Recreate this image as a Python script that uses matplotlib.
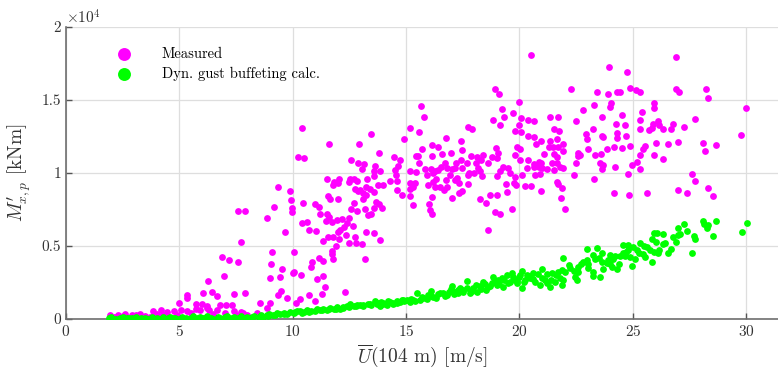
import numpy as np
import matplotlib
matplotlib.use("Agg")
import matplotlib.pyplot as plt
from matplotlib.ticker import FuncFormatter

plt.rcParams["font.family"] = "serif"
plt.rcParams["font.serif"] = ["cmr10"]
plt.rcParams["mathtext.fontset"] = "cm"
plt.rcParams["axes.formatter.use_mathtext"] = True

# measured bending moment (U [m/s], M [kNm])
measured_low = [
    (7.60, 7380), (7.91, 7380), (7.72, 5300), (6.90, 4220), (7.19, 4040), (7.60, 3900),
    (6.96, 2950), (6.28, 2580), (6.06, 1760), (6.44, 1850), (6.65, 1580), (7.41, 1710),
    (7.90, 1760), (5.35, 1640), (5.35, 1420), (4.97, 1070), (5.74, 1030), (6.00, 1030),
    (6.20, 910), (6.79, 980), (7.06, 980), (7.31, 980), (5.74, 700), (5.90, 620),
    (6.20, 750), (6.30, 600), (5.07, 600), (5.35, 580), (3.82, 520), (4.18, 600),
    (4.44, 450), (4.76, 560), (1.94, 300), (2.31, 280), (2.60, 320), (2.90, 260),
    (3.26, 330), (6.65, 600), (7.00, 400), (7.40, 520), (7.70, 480), (8.00, 300),
    (2.10, 150), (2.50, 200), (3.10, 250), (3.50, 200), (4.00, 350), (4.30, 300),
    (5.50, 400), (6.50, 350), (7.50, 250), (7.80, 400), (3.70, 150), (4.90, 250),
]
measured_mid = [
    (10.43, 13060), (11.60, 11990), (10.23, 11070), (10.48, 11000), (13.46, 12670),
    (12.93, 11990), (13.82, 11350), (12.59, 10890), (12.88, 10660), (13.13, 10620),
    (13.04, 10250), (13.63, 10480), (13.60, 10140), (13.84, 10140), (13.57, 9790),
    (14.46, 11120), (14.71, 10890), (14.66, 10500), (14.49, 10200), (14.54, 9860),
    (14.60, 9450), (14.60, 8810), (14.84, 8490), (14.90, 12330),
    (11.53, 9610), (11.80, 9380), (12.06, 9570), (11.76, 9160), (12.00, 9300),
    (12.53, 9610), (12.68, 9610), (12.50, 9380), (12.85, 9450), (13.29, 9570),
    (13.23, 9020), (13.41, 8930), (13.75, 9200), (14.00, 9200), (14.28, 9450),
    (12.76, 8880), (12.97, 8840), (13.12, 8650), (12.88, 8790), (11.54, 8420),
    (11.65, 8200), (12.01, 8200), (13.12, 8200), (13.22, 8490), (13.59, 8700),
    (13.65, 7990), (13.82, 7880), (13.93, 7630), (13.60, 7630), (12.72, 7970),
    (12.59, 7560), (12.82, 7400), (13.18, 7510), (13.46, 7190), (13.32, 7100),
    (9.35, 9060), (9.87, 8790), (9.16, 7690), (9.94, 8150), (9.95, 7580),
    (9.98, 7310), (10.44, 7920), (8.88, 6900), (10.96, 7850), (11.15, 7690),
    (11.22, 7170), (11.50, 7170), (11.62, 6960), (11.47, 6740), (11.72, 6670),
    (11.97, 6780), (12.16, 6830), (12.46, 6940), (12.38, 6550), (12.28, 6320),
    (12.65, 6350), (10.43, 6550), (10.62, 6640), (10.71, 6100), (11.03, 6030),
    (9.68, 5940), (11.32, 5370), (11.57, 5640), (11.76, 5590), (12.03, 5500),
    (12.09, 6100), (11.98, 5980), (12.35, 5750), (12.47, 5230), (12.75, 5640),
    (12.79, 5180), (13.06, 5110), (13.25, 5940), (13.59, 5910), (13.87, 5390),
    (11.91, 5020), (11.73, 4660), (11.72, 4450), (11.76, 4110), (13.20, 4110),
    (9.10, 4610), (10.04, 4610), (9.06, 3740), (9.54, 3400), (9.00, 2790),
    (9.43, 2900), (10.00, 3130), (10.07, 3220), (10.37, 3010), (10.84, 3880),
    (10.81, 3580), (11.16, 4160), (11.32, 4000), (11.09, 2720), (11.32, 2950),
    (11.43, 2210), (11.29, 1710), (12.29, 1850), (10.73, 1640), (10.98, 1230),
    (10.32, 1350), (10.13, 1120), (9.48, 1940), (9.34, 1640), (9.75, 1420),
    (8.56, 1070), (9.00, 1070), (8.85, 730), (8.41, 430),
]
measured_high = [
    (15.66, 14610), (15.78, 13840), (15.18, 13060), (15.57, 12810),
    (18.91, 15730), (19.10, 15410), (19.96, 14890), (20.50, 18080), (19.22, 14380),
    (18.85, 13630), (19.15, 13270), (19.31, 13810), (19.73, 14090), (20.07, 13790),
    (19.96, 13270), (20.37, 13630), (19.82, 12850), (20.06, 12830), (20.37, 12560),
    (17.73, 13130), (17.91, 13010), (16.78, 12420), (17.44, 12170), (17.47, 11550),
    (16.16, 11940), (16.41, 11800), (15.69, 11620), (15.44, 11170), (15.54, 11170),
    (16.59, 11280), (16.97, 11350), (16.12, 11140), (16.70, 10660), (16.53, 10390),
    (16.40, 10210), (16.26, 10160), (16.19, 9980), (16.10, 10250), (16.82, 10320),
    (17.01, 10300), (17.19, 10710), (17.16, 10340), (17.46, 10320), (17.43, 10890),
    (15.18, 10110), (15.44, 10090), (15.59, 10660), (15.85, 10250),
    (15.90, 9840), (16.32, 9570), (16.20, 9410), (15.97, 9180), (16.26, 9060),
    (16.50, 9060), (16.79, 9060), (16.65, 8840), (16.75, 9520), (16.94, 9860),
    (15.15, 9290), (15.41, 9290), (15.32, 9060), (15.15, 8880), (15.15, 8420),
    (15.29, 7830), (16.03, 7850), (16.13, 8380), (16.06, 7460), (16.16, 7190),
    (17.01, 8290), (17.35, 8610), (17.47, 8790), (17.16, 9520), (17.26, 9630),
    (17.35, 9290), (17.68, 10660), (17.85, 11170), (18.12, 11120), (18.41, 11230),
    (18.32, 10890), (18.06, 10660), (18.15, 10370), (18.24, 10160), (18.34, 9820),
    (18.59, 10660), (17.76, 9980), (17.73, 9860), (18.00, 9980), (17.75, 9250),
    (18.26, 8220), (18.53, 7920), (18.71, 8490), (19.03, 8490), (18.90, 7350),
    (19.16, 7170), (18.63, 6100), (18.78, 11120), (18.96, 11690), (19.04, 11390),
    (19.00, 11000), (19.29, 10430), (19.12, 10160), (19.01, 9820), (19.51, 10320),
    (19.59, 10020), (19.81, 9750), (19.74, 9290), (19.41, 9250), (19.47, 8720),
    (19.66, 7510), (19.84, 9180), (20.10, 9860), (20.25, 9110), (20.32, 10320),
    (19.91, 11800), (20.03, 11620), (19.81, 11230), (20.03, 10890), (20.37, 10890),
    (23.94, 17240), (24.74, 16900), (22.27, 15730), (23.41, 15570), (23.91, 15410),
    (24.32, 15550), (24.44, 15550), (24.88, 15800), (25.13, 15690), (25.32, 15570),
    (24.04, 14820), (24.00, 14540), (22.79, 14320), (23.29, 14630), (23.62, 13860),
    (24.54, 13990), (22.50, 13560), (20.66, 13560), (21.35, 13810), (21.72, 13840),
    (24.25, 13380), (24.65, 13290), (24.32, 12760), (24.32, 12380), (24.71, 12530),
    (23.22, 13010), (22.93, 12670), (22.97, 12310), (23.63, 12530), (23.68, 12490),
    (21.52, 13010), (21.75, 12880), (20.65, 12440), (20.94, 12210), (21.35, 12210),
    (21.65, 12310), (20.72, 11990), (21.94, 11960), (21.91, 11530), (21.72, 11760),
    (21.47, 11760), (21.32, 11760), (21.06, 11280), (21.50, 11280), (21.65, 11120),
    (23.02, 11670), (23.35, 11210), (23.59, 11280), (23.88, 11670), (24.15, 11760),
    (24.54, 11690), (24.88, 11850), (25.18, 10780), (24.96, 10550), (22.60, 11350),
    (22.56, 11170), (22.68, 11230), (22.50, 10660), (22.41, 9860), (23.27, 9570),
    (23.53, 10660), (23.68, 10550), (23.65, 10250), (24.19, 10390), (24.79, 9930),
    (24.16, 8650), (24.85, 8470), (20.65, 10620), (20.84, 10780), (20.94, 10710),
    (20.62, 10430), (20.84, 10430), (21.00, 10370), (20.69, 9860), (20.91, 9930),
    (21.21, 10300), (21.43, 10660), (21.65, 10710), (21.79, 10390), (21.91, 10370),
    (21.50, 10210), (20.52, 9110), (20.94, 8770), (21.68, 9250), (21.87, 8970),
    (21.65, 9410), (21.85, 8290), (22.00, 7510),
    (26.92, 17970), (26.92, 15730), (27.03, 15530), (28.23, 15780), (28.32, 15110),
    (30.01, 14470), (25.92, 14820), (25.92, 14470), (25.39, 14200), (25.32, 13630),
    (25.32, 12990), (26.13, 13560), (26.17, 13290), (25.88, 13360), (25.83, 13060),
    (25.69, 12950), (26.32, 12990), (26.69, 12990), (26.79, 13330), (27.25, 13170),
    (27.72, 13700), (29.79, 12600), (26.04, 12030), (26.53, 12010), (27.01, 12100),
    (28.11, 12050), (28.16, 11530), (28.67, 11890), (25.54, 11850), (25.44, 11620),
    (25.32, 11210), (25.94, 11230), (26.32, 10960), (25.32, 10300), (27.60, 9910),
    (27.72, 9430), (28.33, 8990), (28.53, 8400), (26.97, 8840), (27.39, 8610),
    (25.64, 8630),
]

# dynamic gust buffeting calculation
calc_low = [
    (1.9, 50), (2.0, 120), (2.2, 30), (2.4, 80), (2.5, 150), (2.7, 40), (2.9, 100),
    (3.0, 20), (3.1, 130), (3.3, 60), (3.5, 90), (3.6, 30), (3.8, 150), (4.0, 70),
    (4.1, 20), (4.3, 110), (4.5, 50), (4.6, 160), (4.8, 80), (5.0, 30), (5.1, 130),
    (5.3, 60), (5.5, 100), (5.6, 180), (5.8, 40), (5.9, 120), (6.1, 70), (6.2, 200),
    (6.4, 90), (6.5, 30), (6.7, 150), (6.8, 60), (7.0, 110), (7.1, 190), (7.3, 50),
    (7.4, 140), (7.6, 90), (7.7, 210), (7.9, 60), (8.0, 170), (8.2, 110), (8.3, 240),
    (8.5, 170), (8.6, 280), (8.7, 130),
    (2.1, 0), (2.6, 10), (3.2, 0), (3.9, 10), (4.4, 0), (5.2, 10), (5.7, 0),
    (6.3, 10), (6.9, 0), (7.5, 10), (8.1, 30), (2.8, 60), (4.7, 40), (6.0, 90),
    (7.2, 80),
    (8.85, 250), (8.95, 330), (9.15, 270), (9.3, 390), (9.45, 310), (9.6, 420),
    (9.75, 360), (9.9, 480), (10.05, 410), (10.2, 520), (10.3, 570), (10.5, 470),
    (10.65, 600), (10.8, 540), (11.06, 660), (11.2, 590), (11.35, 700), (11.5, 640),
    (11.65, 730), (11.8, 680), (11.95, 790), (12.1, 720), (12.23, 800), (12.4, 880),
    (12.53, 1030), (12.7, 860), (12.85, 940), (12.97, 960), (13.1, 880), (13.3, 1060),
    (13.45, 990), (13.63, 1260), (13.75, 1090), (13.9, 1150), (14.0, 1030),
    (14.2, 1200), (14.44, 1100), (14.6, 1250), (14.81, 1300), (15.03, 1300),
    (8.9, 200), (9.2, 300), (9.6, 350), (10.1, 470), (10.4, 430), (10.7, 510),
    (11.0, 560), (11.3, 640), (11.6, 690), (11.9, 720), (12.2, 760), (12.5, 850),
    (12.8, 900), (13.1, 960), (13.4, 1020), (13.7, 1000), (14.0, 1120), (14.3, 1150),
    (14.6, 1080), (14.9, 1220),
]
calc_high = [
    (13.85, 890), (14.14, 960), (14.44, 1030), (14.73, 1190), (14.88, 1300),
    (15.17, 1190), (15.32, 1300), (15.50, 1760), (15.61, 1300), (15.76, 1420),
    (15.98, 1640), (16.10, 1900), (16.20, 1530), (16.42, 1690), (16.64, 1800),
    (16.79, 1640), (16.97, 2030), (17.01, 2260), (17.16, 1870), (17.31, 1760),
    (17.38, 2100), (17.53, 1990), (17.70, 2600), (17.82, 1760), (17.97, 2100),
    (18.14, 1870), (18.26, 2260), (18.41, 2560), (18.53, 1990), (18.63, 2170),
    (18.78, 2440), (18.85, 2900), (19.00, 2330), (19.07, 2670), (19.22, 2780),
    (19.29, 2210), (19.44, 3010), (19.59, 2560), (19.66, 3130), (19.81, 2670),
    (19.88, 2440), (20.03, 3010), (20.10, 3310), (20.10, 2100), (20.25, 2670),
    (20.32, 3010), (20.47, 2780), (20.61, 3170), (20.69, 2560), (20.91, 2330),
    (20.98, 3400), (21.13, 2670), (21.20, 2440), (21.35, 2210), (21.42, 3130),
    (21.57, 2560), (21.72, 3240),
    (15.2, 1350), (15.4, 1250), (15.7, 1500), (15.9, 1380), (16.1, 1600),
    (16.3, 1450), (16.5, 1750), (16.7, 1550), (16.9, 1850), (17.1, 1700),
    (17.3, 2000), (17.5, 1850), (17.7, 2150), (17.9, 1950), (18.1, 2300),
    (18.3, 2050), (18.5, 2400), (18.7, 2250), (18.9, 2600), (19.1, 2400),
    (19.3, 2700), (19.5, 2500), (19.7, 2850), (19.9, 2600), (20.0, 2900),
    (20.2, 2550), (20.4, 2950), (20.6, 2750), (20.8, 3050), (21.0, 2800),
    (21.2, 3100), (21.4, 2700), (21.6, 3000), (21.8, 2800), (22.2, 3700),
    (22.4, 3300), (22.7, 3800), (23.0, 3500), (23.5, 4200), (24.0, 4400),
    (24.4, 3800), (24.7, 4600), (25.0, 4900), (25.5, 5000), (26.0, 5300),
    (26.4, 5200), (27.1, 5800),
    (21.94, 4200), (21.86, 3360), (22.01, 3240), (21.91, 2670), (21.86, 2330),
    (22.23, 3470), (22.45, 2900), (22.53, 2670), (22.60, 3580), (22.60, 3240),
    (22.82, 3930), (22.97, 4040), (22.97, 4770), (23.04, 3740), (23.26, 4380),
    (23.33, 4090), (23.23, 3240), (23.26, 2950), (23.41, 4840), (23.55, 2900),
    (23.63, 4500), (23.63, 3930), (23.67, 3400), (23.85, 3860), (23.92, 4040),
    (23.99, 3770), (24.07, 3580), (24.14, 4090), (24.22, 4310), (24.32, 3400),
    (24.44, 4310), (24.55, 5070), (24.58, 4500), (24.66, 4310), (24.80, 5070),
    (24.88, 4270), (24.95, 3630), (24.80, 4730), (25.10, 4090), (25.20, 4730),
    (25.32, 5230), (25.29, 4500), (25.44, 4450), (25.54, 4270), (25.64, 4910),
    (25.76, 4730), (25.83, 3930), (25.83, 5460), (25.94, 5910), (26.05, 5870),
    (26.14, 4730), (25.94, 4610), (26.13, 4500), (26.32, 5110), (26.32, 5800),
    (26.53, 4540), (26.69, 4770), (26.79, 5590), (26.91, 5300), (26.97, 5750),
    (27.01, 6210), (27.26, 6480), (27.38, 6030), (27.60, 4500), (27.70, 5680),
    (27.75, 5460), (28.11, 6710), (28.14, 6480), (28.26, 6210), (28.33, 6440),
    (28.52, 5680), (28.66, 6730), (29.80, 5940), (30.03, 6550),
]

measured = np.array(measured_low + measured_mid + measured_high)
calc = np.array(calc_low + calc_high)

fig = plt.figure(figsize=(7.78, 3.74), dpi=100)
ax = fig.add_axes([0.0848, 0.147, 0.9152, 0.781])

ax.scatter(measured[:, 0], measured[:, 1], s=24, color="#ff00ff", linewidths=0,
           label="Measured", zorder=3)
ax.scatter(calc[:, 0], calc[:, 1], s=24, color="#00ff00", linewidths=0,
           label="Dyn. gust buffeting calc.", zorder=4)

ax.set_xlim(0, 31.4)
ax.set_ylim(0, 20000)
ax.set_xticks([0, 5, 10, 15, 20, 25, 30])
ax.set_yticks([0, 5000, 10000, 15000, 20000])
ax.yaxis.set_major_formatter(FuncFormatter(lambda v, _: f"{v / 1e4:g}"))
ax.text(0.0, 1.0, r"$\times10^4$", transform=ax.transAxes, ha="left", va="bottom",
        fontsize=11, color="#333333")

ax.set_axisbelow(True)
ax.grid(True, color="#dedede", linewidth=0.9)
for side in ("top", "right"):
    ax.spines[side].set_visible(False)
for side in ("left", "bottom"):
    ax.spines[side].set_color("#6e6e6e")
    ax.spines[side].set_linewidth(1.2)
ax.tick_params(direction="in", length=4, width=1, color="#555555",
               labelsize=11, labelcolor="#333333")

ax.set_xlabel(r"$\overline{U}$(104 m) [m/s]", fontsize=14, color="#333333", labelpad=2)
ax.set_ylabel(r"$M^{\prime}_{x,p}$ [kNm]", fontsize=14, color="#333333", labelpad=6)

leg = ax.legend(loc="upper left", bbox_to_anchor=(0.042, 0.975), frameon=False,
                fontsize=10.5, markerscale=1.9, handletextpad=1.6, labelspacing=0.4)

fig.savefig("out.png", dpi=100, facecolor="white")
